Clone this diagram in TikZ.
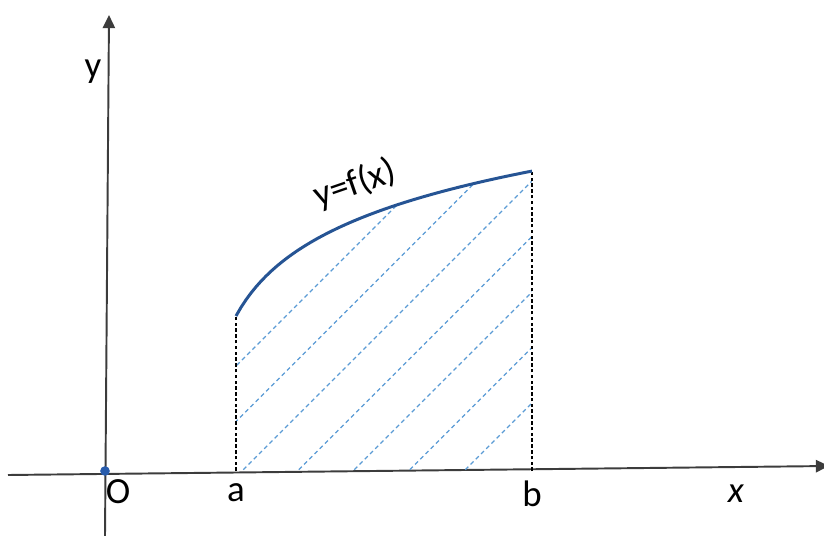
\documentclass[tikz,border=0pt]{standalone}
\usepackage{fontspec}
\setmainfont{Carlito}
\usetikzlibrary{arrows.meta}
\definecolor{curveblue}{RGB}{38,84,148}
\definecolor{hatchblue}{RGB}{91,155,213}
\definecolor{axisgray}{RGB}{60,60,60}
\definecolor{dotblue}{RGB}{40,92,172}
\tikzset{
  axisline/.style={draw=axisgray, line width=1.1pt, -{Triangle[width=7pt,length=7.5pt]}},
  boundline/.style={draw=black, line width=0.9pt, dash pattern=on 2pt off 1.3pt},
  hatchline/.style={color=hatchblue, line width=0.7pt, dash pattern=on 2.4pt off 1.8pt},
  lbl/.style={font=\fontsize{21}{25}\selectfont, inner sep=0pt}
}

\begin{document}
\begin{tikzpicture}[declare function={f(\x)=3.1+1.29*ln(1+(\x-2.64)/0.7);}]
\useasboundingbox (-2.08,-1.28) rectangle (14.4,9.42);
\coordinate (A) at (2.64,0);
\coordinate (B) at (8.56,0);
\coordinate (fa) at (2.64,{f(2.64)});
\coordinate (fb) at (8.56,{f(8.56)});
\coordinate (xl) at (-1.92,-0.08);
\coordinate (xr) at (14.5,0.1);
\coordinate (yb) at (0.02,-1.3);
\coordinate (yt) at (0.1,9.12);
\draw[axisline] (xl) -- (xr);
\draw[axisline] (yb) -- (yt);
\begin{scope}
\clip (A) -- plot[domain=2.64:8.56, samples=60] (\x,{f(\x)}) -- (B) -- cycle;
\foreach \c in {0.54,1.65,2.76,3.87,4.98,6.09,7.2}
  \draw[hatchline] (\c,0) ++(-3,-3) -- ++(12,12);
\end{scope}
\draw[boundline] (A) -- (fa);
\draw[boundline] (B) -- (fb);
\draw[curveblue, line width=1.7pt] plot[domain=2.64:8.56, samples=60] (\x,{f(\x)});
\node[circle, fill=dotblue, inner sep=0pt, minimum size=5.5pt] (O) at (0.02,0) {};
\node[lbl] (lo) at (0.28,-0.42) {O};
\node[lbl] (la) at (2.64,-0.44) {a};
\node[lbl] (lb) at (8.56,-0.46) {b};
\node[lbl] (lx) at (12.64,-0.46) {\textit{x}};
\node[lbl] (ly) at (-0.22,7.98) {y};
\node[lbl, rotate=19] (lf) at (5.02,5.74) {y=f(x)};
\end{tikzpicture}
\end{document}
